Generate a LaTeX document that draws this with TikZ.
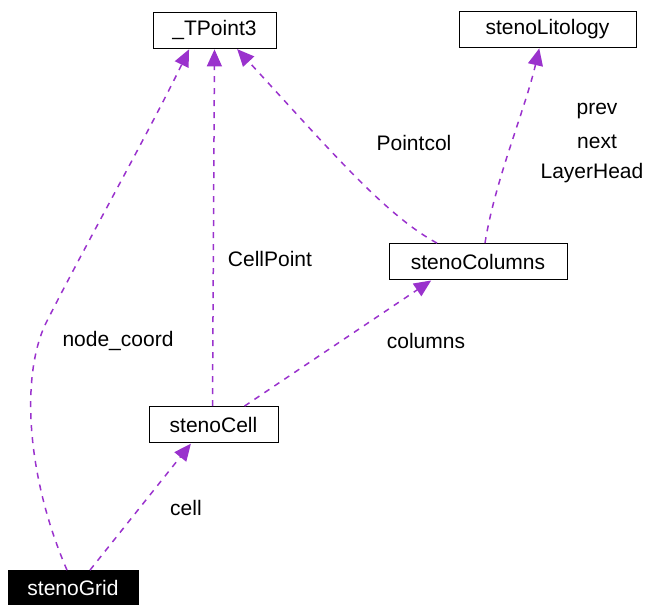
\documentclass[tikz,border=0pt]{standalone}
\usepackage{fontspec}
\setmainfont{Liberation Sans}
\usetikzlibrary{arrows.meta}
\definecolor{orchid}{RGB}{154,50,205}
\tikzset{
    every node/.style={font=\fontsize{21}{25}\selectfont},
    class node/.style={draw,thick,fill=white,minimum height=36pt,inner sep=0pt},
    use edge/.style={->,orchid,line width=1.5pt,dash pattern=on 6pt off 6pt}
}

\begin{document}
\begin{tikzpicture}[
            x = 1pt, y = -1pt, % pixel grid, y going down
            > = {Triangle[length=17pt,width=15pt]}, % filled head
            shorten > = 1pt
        ]
        \useasboundingbox (0,0) rectangle (648,605);

        \node[class node,minimum width=123pt] (tpoint) at (214.5,30) {\_TPoint3};
        \node[class node,minimum width=177pt] (lito) at (547.5,29) {stenoLitology};
        \node[class node,minimum width=178pt] (cols) at (478,261.5) {stenoColumns};
        \node[class node,minimum width=129pt] (cell) at (213.5,424.5) {stenoCell};
        \node[class node,fill=black,text=white,minimum width=130pt,minimum height=35pt]
            (grid) at (73,588) {stenoGrid};

        % member links
        \draw[use edge] ([xshift=-6pt]grid.north) .. controls (28,480) and (20,380) .. (45,325)
            .. controls (80,255) and (150,130) .. ([xshift=-25pt]tpoint.south);
        \draw[use edge] ([xshift=-1pt]cell.north) -- (tpoint.south);
        \draw[use edge] ([xshift=-41pt]cols.north) .. controls (385,215) and (330,150)
            .. ([xshift=22pt]tpoint.south);
        \draw[use edge] ([xshift=7pt]cols.north) .. controls (495,180) and (525,110)
            .. ([xshift=-8pt]lito.south);
        \draw[use edge] ([xshift=31pt]cell.north) -- ([xshift=-46pt]cols.south);
        \draw[use edge] ([xshift=17pt]grid.north) -- ([xshift=-22pt]cell.south);

        % labels
        \node (lbgrid) at (118,341) {node\_coord};
        \node (lbcellp) at (270,259) {CellPoint};
        \node (lbpcol) at (414,143) {Pointcol};
        \node (lbcols) at (426,341) {columns};
        \node (lbcell) at (186,508) {cell};
        \node (lbprev) at (597,111) {prev};
        \node (lbnext) at (597,142) {next};
        \node (lbhead) at (592,173) {LayerHead};
\end{tikzpicture}
\end{document}
